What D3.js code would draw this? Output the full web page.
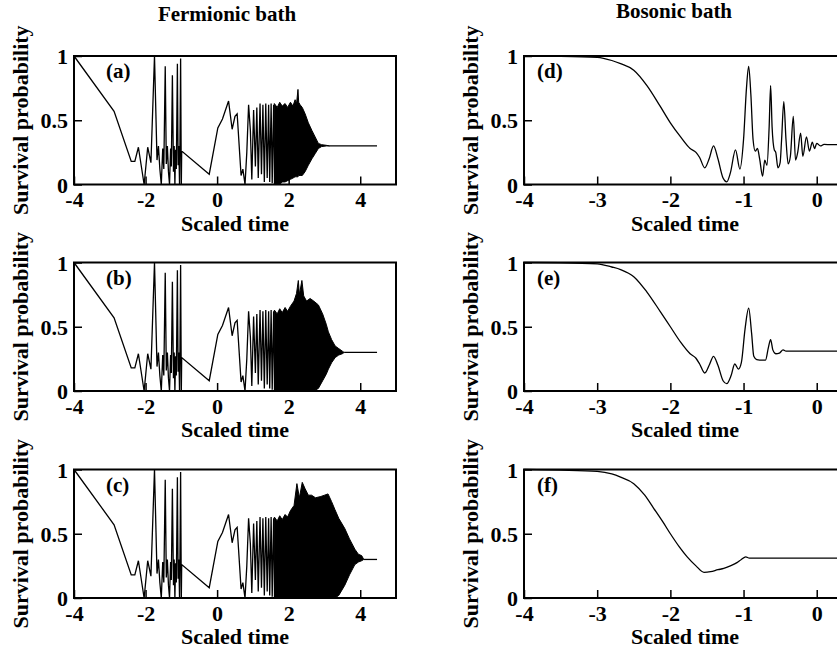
<!DOCTYPE html>
<html><head><meta charset="utf-8">
<script src="https://cdn.jsdelivr.net/npm/d3@7"></script>
<style>
html,body{margin:0;padding:0;background:#fff;}
svg text{font-family:"Liberation Serif","Times New Roman",serif;font-weight:bold;fill:#000;}
</style></head>
<body><svg id="c" width="837" height="652"></svg>
<script>
// ---------- data ----------
const columnTitles = ["Fermionic bath", "Bosonic bath"];
const panelLetters = ["(a)", "(b)", "(c)", "(d)", "(e)", "(f)"];
const xTicksFermi = [-4, -2, 0, 2, 4];
const xTicksBose = [-4, -3, -2, -1, 0];
const yTicks = [0, 0.5, 1];
const xLabel = "Scaled time";
const yLabel = "Survival probability";

// Fermionic bath: resolved part (shared by a, b, c)  [scaled time, probability]
const fermiResolved = [
  [-4, 1.0], [-2.88, 0.57], [-2.4, 0.18], [-2.3, 0.18], [-2.2, 0.29], [-2.04, 0.0],
  [-1.94, 0.29], [-1.85, 0.17], [-1.75, 1.0], [-1.68, 0.19], [-1.64, 0.3], [-1.6, 0.12],
  [-1.56, 0.0], [-1.52, 0.28], [-1.49, 0.12], [-1.45, 0.92], [-1.42, 0.16], [-1.39, 0.3],
  [-1.36, 0.1], [-1.33, 0.0], [-1.3, 0.28], [-1.28, 0.14], [-1.25, 0.85], [-1.22, 0.1],
  [-1.2, 0.3], [-1.18, 0.0], [-1.16, 0.27], [-1.14, 0.12], [-1.11, 0.94], [-1.09, 0.15],
  [-1.07, 0.3], [-1.05, 0.0], [-1.04, 0.25], [-1.02, 0.98], [-1.0, 0.0], [-0.99, 0.26],
  [-0.22, 0.08], [0.02, 0.44], [0.15, 0.51], [0.32, 0.65], [0.42, 0.43], [0.5, 0.53],
  [0.56, 0.55], [0.67, 0.07], [0.72, 0.12], [0.78, 0.0], [0.83, 0.25], [0.88, 0.62],
  [0.93, 0.42], [0.97, 0.04], [1.02, 0.58], [1.07, 0.14], [1.11, 0.6], [1.15, 0.05],
  [1.2, 0.63], [1.24, 0.08], [1.28, 0.62], [1.32, 0.02], [1.36, 0.63], [1.4, 0.05],
  [1.44, 0.62], [1.47, 0.02], [1.51, 0.63], [1.54, 0.01], [1.58, 0.62], [1.61, 0.0]
];
// Dense oscillation band: times, upper and lower envelopes
const bandTimeA  = [1.6, 1.68, 1.75, 1.82, 1.9, 1.97, 2.05, 2.12, 2.18, 2.22, 2.26, 2.28, 2.32, 2.38, 2.46, 2.55, 2.65, 2.74, 2.83, 2.92, 3.05, 3.15];
const bandUpperA = [0.63, 0.6, 0.64, 0.61, 0.63, 0.6, 0.64, 0.61, 0.66, 0.63, 0.74, 0.64, 0.62, 0.6, 0.55, 0.48, 0.42, 0.37, 0.32, 0.31, 0.305, 0.3];
const bandLowerA = [0.0, 0.0, 0.0, 0.02, 0.02, 0.03, 0.04, 0.05, 0.06, 0.06, 0.06, 0.07, 0.07, 0.07, 0.1, 0.15, 0.2, 0.24, 0.28, 0.295, 0.3, 0.3];

const bandTimeB  = [1.6, 1.68, 1.75, 1.82, 1.9, 1.97, 2.05, 2.15, 2.22, 2.27, 2.3, 2.37, 2.42, 2.5, 2.6, 2.7, 2.83, 2.95, 3.05, 3.11, 3.2, 3.3, 3.4, 3.5, 3.55];
const bandUpperB = [0.63, 0.6, 0.64, 0.61, 0.65, 0.62, 0.66, 0.7, 0.76, 0.86, 0.75, 0.86, 0.74, 0.7, 0.72, 0.7, 0.67, 0.6, 0.52, 0.46, 0.4, 0.35, 0.33, 0.31, 0.3];
const bandLowerB = [0.0, 0.0, 0.0, 0.0, 0.0, 0.0, 0.0, 0.0, 0.0, 0.0, 0.0, 0.0, 0.0, 0.0, 0.0, 0.0, 0.02, 0.08, 0.13, 0.17, 0.22, 0.26, 0.28, 0.29, 0.3];

const bandTimeC  = [1.6, 1.68, 1.75, 1.82, 1.9, 1.97, 2.05, 2.15, 2.23, 2.3, 2.38, 2.46, 2.55, 2.64, 2.75, 2.9, 3.0, 3.1, 3.2, 3.29, 3.4, 3.57, 3.7, 3.85, 3.95, 4.04, 4.1];
const bandUpperC = [0.63, 0.6, 0.64, 0.61, 0.65, 0.63, 0.68, 0.72, 0.89, 0.78, 0.9, 0.85, 0.8, 0.8, 0.78, 0.79, 0.8, 0.81, 0.75, 0.69, 0.62, 0.54, 0.46, 0.38, 0.34, 0.33, 0.3];
const bandLowerC = [0.0, 0.0, 0.0, 0.0, 0.0, 0.0, 0.0, 0.0, 0.0, 0.0, 0.0, 0.0, 0.0, 0.0, 0.0, 0.0, 0.0, 0.0, 0.0, 0.0, 0.02, 0.1, 0.18, 0.26, 0.28, 0.29, 0.3];

const fermiTailEnd = 4.47;
const fermiTailValue = 0.3;

// Bosonic bath curves [scaled time, probability]
const boseD = [
  [-4, 1.0], [-3.5, 0.998], [-3.0, 0.99], [-2.8, 0.965], [-2.68, 0.94], [-2.5, 0.89],
  [-2.32, 0.77], [-2.14, 0.61], [-2.0, 0.48], [-1.86, 0.37], [-1.73, 0.28], [-1.65, 0.25],
  [-1.6, 0.21], [-1.53, 0.13], [-1.47, 0.2], [-1.41, 0.3], [-1.35, 0.2], [-1.28, 0.05],
  [-1.23, 0.02], [-1.18, 0.09], [-1.11, 0.27], [-1.05, 0.12], [-1.0, 0.35], [-0.96, 0.75],
  [-0.93, 0.92], [-0.9, 0.7], [-0.87, 0.35], [-0.84, 0.26], [-0.81, 0.28], [-0.78, 0.2],
  [-0.74, 0.065], [-0.71, 0.19], [-0.68, 0.15], [-0.65, 0.45], [-0.63, 0.77], [-0.61, 0.45],
  [-0.58, 0.27], [-0.56, 0.25], [-0.53, 0.13], [-0.5, 0.17], [-0.48, 0.35], [-0.45, 0.645],
  [-0.42, 0.35], [-0.39, 0.16], [-0.36, 0.22], [-0.32, 0.53], [-0.29, 0.19], [-0.26, 0.25],
  [-0.22, 0.4], [-0.19, 0.22], [-0.14, 0.37], [-0.1, 0.26], [-0.06, 0.33], [-0.03, 0.28],
  [0.0, 0.32], [0.05, 0.3], [0.1, 0.312], [0.2, 0.31], [0.4, 0.31]
];
const boseE = [
  [-4, 1.0], [-3.5, 0.998], [-3.0, 0.99], [-2.8, 0.965], [-2.68, 0.945], [-2.5, 0.89],
  [-2.32, 0.77], [-2.14, 0.62], [-2.0, 0.5], [-1.86, 0.38], [-1.73, 0.29], [-1.65, 0.255],
  [-1.6, 0.21], [-1.53, 0.14], [-1.47, 0.2], [-1.41, 0.27], [-1.35, 0.2], [-1.28, 0.08],
  [-1.23, 0.057], [-1.17, 0.12], [-1.12, 0.21], [-1.07, 0.17], [-1.03, 0.22], [-0.98, 0.48],
  [-0.93, 0.645], [-0.89, 0.45], [-0.86, 0.27], [-0.82, 0.245], [-0.74, 0.24], [-0.7, 0.24],
  [-0.66, 0.34], [-0.63, 0.4], [-0.6, 0.32], [-0.56, 0.29], [-0.51, 0.295], [-0.46, 0.32],
  [-0.42, 0.31], [-0.3, 0.31], [0.4, 0.31]
];
const boseF = [
  [-4, 1.0], [-3.5, 0.995], [-3.0, 0.985], [-2.8, 0.965], [-2.68, 0.94], [-2.5, 0.89],
  [-2.35, 0.8], [-2.23, 0.7], [-2.1, 0.59], [-2.0, 0.5], [-1.88, 0.4], [-1.77, 0.32],
  [-1.65, 0.25], [-1.54, 0.2], [-1.45, 0.205], [-1.35, 0.22], [-1.27, 0.23], [-1.18, 0.25],
  [-1.09, 0.275], [-1.03, 0.3], [-0.97, 0.32], [-0.92, 0.31], [-0.88, 0.31], [-0.7, 0.31], [0.4, 0.31]
];

// ---------- layout ----------
const svg = d3.select("#c");
const panelTops = [56, 262.5, 469.5];
const panelH = 128.5;
const fermiRange = [74, 396];
const boseRange = [524, 846];
const fermiDomain = [-4, 5];
const boseDomain = [-4, 0.4];
const FS = 22;

function zipBand(t, up, lo) { return t.map((d, i) => ({t: d, u: up[i], l: lo[i]})); }
const fermiBands = [
  zipBand(bandTimeA, bandUpperA, bandLowerA),
  zipBand(bandTimeB, bandUpperB, bandLowerB),
  zipBand(bandTimeC, bandUpperC, bandLowerC)
];
const boseCurves = [boseD, boseE, boseF];
const plainFmt = d => String(d);

function drawPanel(col, row) {
  const top = panelTops[row];
  const xr = col === 0 ? fermiRange : boseRange;
  const x = d3.scaleLinear().domain(col === 0 ? fermiDomain : boseDomain).range(xr);
  const y = d3.scaleLinear().domain([0, 1]).range([top + panelH, top]);
  const g = svg.append("g");

  // curves
  if (col === 0) {
    const band = fermiBands[row];
    g.append("path")
      .datum(band)
      .attr("d", d3.area().x(d => x(d.t)).y0(d => y(d.l)).y1(d => y(d.u)))
      .attr("fill", "#000").attr("stroke", "#000").attr("stroke-width", 1);
    g.append("path")
      .datum(fermiResolved)
      .attr("d", d3.line().x(d => x(d[0])).y(d => y(d[1])))
      .attr("fill", "none").attr("stroke", "#000").attr("stroke-width", 1.3)
      .attr("stroke-linejoin", "miter");
    const last = band[band.length - 1];
    g.append("path")
      .datum([[last.t, fermiTailValue], [fermiTailEnd, fermiTailValue]])
      .attr("d", d3.line().x(d => x(d[0])).y(d => y(d[1])))
      .attr("fill", "none").attr("stroke", "#000").attr("stroke-width", 1.3);
  } else {
    g.append("path")
      .datum(boseCurves[row])
      .attr("d", d3.line().curve(d3.curveMonotoneX).x(d => x(d[0])).y(d => y(d[1])))
      .attr("fill", "none").attr("stroke", "#000").attr("stroke-width", 1.3);
  }

  // axes
  const xa = g.append("g").attr("transform", `translate(0,${top + panelH})`)
    .call(d3.axisBottom(x).tickValues(col === 0 ? xTicksFermi : xTicksBose)
      .tickSize(-8).tickPadding(7).tickFormat(plainFmt));
  const ya = g.append("g").attr("transform", `translate(${xr[0]},0)`)
    .call(d3.axisLeft(y).tickValues(yTicks).tickSize(-8).tickPadding(6).tickFormat(plainFmt));
  [xa, ya].forEach(a => {
    a.select(".domain").remove();
    a.selectAll("line").attr("stroke", "#000").attr("stroke-width", 1.5);
    a.selectAll("text").attr("font-size", FS).attr("font-family", "Liberation Serif, Times New Roman, serif")
      .attr("font-weight", "bold").attr("fill", "#000");
  });
  ya.selectAll("text").attr("dy", "0.35em");

  // frame
  g.append("rect").attr("x", xr[0]).attr("y", top).attr("width", xr[1] - xr[0]).attr("height", panelH)
    .attr("fill", "none").attr("stroke", "#000").attr("stroke-width", 2);

  // labels
  g.append("text").attr("x", (xr[0] + xr[1]) / 2).attr("y", top + panelH + 46)
    .attr("text-anchor", "middle").attr("font-size", FS).text(xLabel);
  g.append("text")
    .attr("transform", `translate(${xr[0] - 46},${top + panelH / 2}) rotate(-90)`)
    .attr("text-anchor", "middle").attr("font-size", FS).text(yLabel);
  g.append("text").attr("x", xr[0] + (col === 0 ? 32 : 13)).attr("y", top + 22)
    .attr("font-size", 21).text(panelLetters[col * 3 + row]);
}

for (let c = 0; c < 2; c++) for (let r = 0; r < 3; r++) drawPanel(c, r);

svg.append("text").attr("x", 227).attr("y", 21).attr("text-anchor", "middle").attr("font-size", 21).text(columnTitles[0]);
svg.append("text").attr("x", 674).attr("y", 18).attr("text-anchor", "middle").attr("font-size", 21).text(columnTitles[1]);
</script></body></html>
